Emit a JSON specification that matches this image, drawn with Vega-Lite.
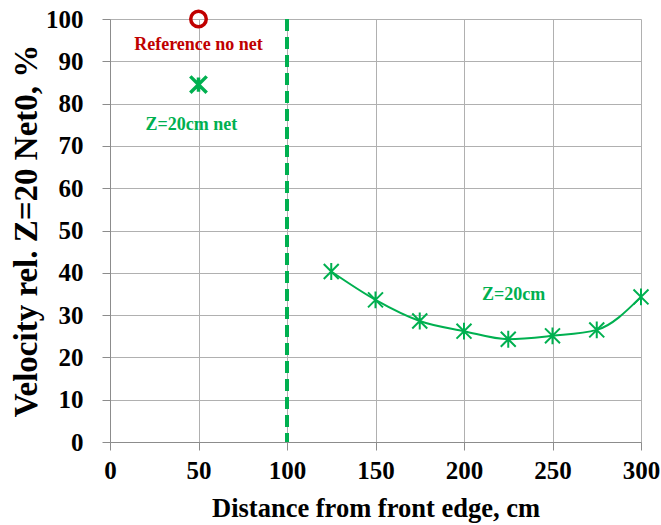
{
  "$schema": "https://vega.github.io/schema/vega-lite/v6.json",
  "width": 531,
  "height": 423,
  "autosize": {"type": "none"},
  "padding": {"left": 110, "top": 19, "right": 20, "bottom": 83},
  "background": "white",
  "config": {
    "view": {"stroke": null},
    "font": "Liberation Serif",
    "axis": {
      "gridColor": "#b0b0b0",
      "gridWidth": 1,
      "domainColor": "#8c8c8c",
      "tickColor": "#8c8c8c",
      "tickSize": 8,
      "labelFont": "Liberation Serif",
      "labelFontSize": 25,
      "labelFontWeight": "bold",
      "labelColor": "#000",
      "titleFont": "Liberation Serif",
      "titleFontWeight": "bold",
      "titleColor": "#000"
    }
  },
  "datasets": {
    "curve": [
      {"distance": 125, "velocity": 40.3},
      {"distance": 150, "velocity": 33.6},
      {"distance": 175, "velocity": 28.6},
      {"distance": 200, "velocity": 26.2},
      {"distance": 225, "velocity": 24.3},
      {"distance": 250, "velocity": 25.1},
      {"distance": 275, "velocity": 26.5},
      {"distance": 300, "velocity": 34.3}
    ],
    "netpoint": [{"distance": 50, "velocity": 84.5}],
    "refpoint": [{"distance": 50, "velocity": 100}],
    "netedge": [{"distance": 100}],
    "labels": [
      {"distance": 50, "velocity": 93.9, "text": "Reference no net", "kind": "ref"},
      {"distance": 46, "velocity": 74.9, "text": "Z=20cm net", "kind": "z"},
      {"distance": 228, "velocity": 34.8, "text": "Z=20cm", "kind": "z"}
    ]
  },
  "encoding": {
    "x": {
      "field": "distance", "type": "quantitative",
      "scale": {"domain": [0, 300], "nice": false},
      "axis": {"values": [0, 50, 100, 150, 200, 250, 300], "title": "Distance from front edge, cm", "titleFontSize": 26.5, "labelPadding": 8, "titlePadding": 12, "labelFlush": false}
    },
    "y": {
      "field": "velocity", "type": "quantitative",
      "scale": {"domain": [0, 100], "nice": false},
      "axis": {"values": [0, 10, 20, 30, 40, 50, 60, 70, 80, 90, 100], "title": "Velocity rel. Z=20 Net0, %", "titleFontSize": 33, "labelPadding": 19, "titlePadding": 2}
    }
  },
  "layer": [
    {
      "data": {"name": "netedge"},
      "mark": {"type": "rule", "color": "#00B050", "strokeWidth": 4, "strokeDash": [12, 6]},
      "encoding": {"x": {"field": "distance", "type": "quantitative"}, "y": null}
    },
    {
      "data": {"name": "curve"},
      "mark": {"type": "line", "color": "#00B050", "strokeWidth": 2, "interpolate": "monotone"},
      "encoding": {}
    },
    {
      "data": {"name": "curve"},
      "mark": {"type": "point", "shape": "M-0.8,-0.8L0.8,0.8M-0.8,0.8L0.8,-0.8M0,-0.9L0,0.9", "filled": false, "color": "#00B050", "strokeWidth": 2, "size": 350, "opacity": 1},
      "encoding": {}
    },
    {
      "data": {"name": "netpoint"},
      "mark": {"type": "point", "shape": "M-0.8,-0.8L0.8,0.8M-0.8,0.8L0.8,-0.8M0,-0.7L0,0.7", "filled": false, "color": "#00B050", "strokeWidth": 3.5, "size": 420, "opacity": 1},
      "encoding": {}
    },
    {
      "data": {"name": "refpoint"},
      "mark": {"type": "point", "shape": "circle", "filled": false, "color": "#C00000", "strokeWidth": 3.5, "size": 240, "opacity": 1},
      "encoding": {}
    },
    {
      "data": {"name": "labels"},
      "mark": {"type": "text", "font": "Liberation Serif", "fontWeight": "bold", "fontSize": 18, "align": "center", "baseline": "middle"},
      "encoding": {
        "text": {"field": "text"},
        "color": {"field": "kind", "type": "nominal", "scale": {"domain": ["ref", "z"], "range": ["#C00000", "#00B050"]}, "legend": null}
      }
    }
  ]
}
